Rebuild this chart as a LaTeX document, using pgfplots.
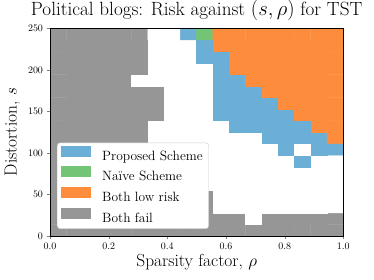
\documentclass[border=0pt]{standalone}
\usepackage{pgfplots}
\pgfplotsset{compat=1.18}
\definecolor{cblue}{RGB}{107,174,214}
\definecolor{cgreen}{RGB}{116,196,118}
\definecolor{corange}{RGB}{253,141,60}
\definecolor{cgray}{RGB}{150,150,150}
\begin{document}
\begin{tikzpicture}
\useasboundingbox (-50bp,-44bp) rectangle (324bp,236bp);
\begin{axis}[
  scale only axis,
  width=293.3bp, height=207.7bp,
  xmin=0, xmax=1, ymin=0, ymax=250,
  enlargelimits=false,
  axis on top,
  tick align=outside, tick pos=left,
  major tick length=3.5bp,
  xtick={0,0.2,0.4,0.6,0.8,1.0},
  ytick={0,50,100,150,200,250},
  xticklabel style={/pgf/number format/fixed, /pgf/number format/precision=1, /pgf/number format/fixed zerofill},
  ticklabel style={font=\fontsize{10}{12}\selectfont},
  title={Political blogs: Risk against $(s,\rho)$ for TST},
  title style={font=\fontsize{19.2}{22}\selectfont, at={(axis description cs:0.5,1)}, anchor=base, yshift=6.6bp},
  xlabel={Sparsity factor, $\rho$},
  ylabel={Distortion, $s$},
  xlabel style={font=\fontsize{17.5}{20}\selectfont, at={(axis description cs:0.5,-0.125)}, anchor=center},
  ylabel style={font=\fontsize{17.5}{20}\selectfont, at={(axis description cs:-0.128,0.5)}, anchor=center},
  colormap={cats}{rgb255=(255,255,255) rgb255=(107,174,214) rgb255=(116,196,118) rgb255=(253,141,60) rgb255=(150,150,150)},
  colormap access=direct,
  legend image code/.code={\fill[draw=none, sharp corners, #1] (0bp,-0.5bp) rectangle (30bp,10.5bp);},
  legend cell align=left,
  legend style={at={(axis description cs:0.024,0.034)}, anchor=south west, draw=black!20, rounded corners=3bp, fill=white,
    font=\fontsize{13.5}{16}\selectfont, row sep=2.7bp, column sep=9bp, inner xsep=4bp, inner ysep=3bp},
]
\addplot[matrix plot*, mesh/cols=18, point meta=explicit, forget plot,
  x filter/.expression={(x+0.5)/18}, y filter/.expression={(y+0.5)*250/18}] coordinates {
(0,0)[4] (1,0)[4] (2,0)[4] (3,0)[4] (4,0)[4] (5,0)[4] (6,0)[4] (7,0)[4] (8,0)[4] (9,0)[4] (10,0)[4] (11,0)[4] (12,0)[4] (13,0)[4] (14,0)[4] (15,0)[4] (16,0)[4] (17,0)[4]
(0,1)[4] (1,1)[4] (2,1)[4] (3,1)[4] (4,1)[4] (5,1)[4] (6,1)[4] (7,1)[4] (8,1)[4] (9,1)[4] (10,1)[4] (11,1)[4] (12,1)[0] (13,1)[4] (14,1)[4] (15,1)[4] (16,1)[4] (17,1)[4]
(0,2)[4] (1,2)[4] (2,2)[4] (3,2)[4] (4,2)[4] (5,2)[4] (6,2)[4] (7,2)[4] (8,2)[4] (9,2)[4] (10,2)[0] (11,2)[0] (12,2)[0] (13,2)[0] (14,2)[0] (15,2)[0] (16,2)[0] (17,2)[0]
(0,3)[4] (1,3)[4] (2,3)[4] (3,3)[4] (4,3)[4] (5,3)[4] (6,3)[4] (7,3)[4] (8,3)[4] (9,3)[4] (10,3)[0] (11,3)[0] (12,3)[0] (13,3)[0] (14,3)[0] (15,3)[0] (16,3)[0] (17,3)[0]
(0,4)[4] (1,4)[4] (2,4)[4] (3,4)[4] (4,4)[4] (5,4)[4] (6,4)[0] (7,4)[0] (8,4)[0] (9,4)[0] (10,4)[0] (11,4)[0] (12,4)[0] (13,4)[0] (14,4)[0] (15,4)[0] (16,4)[0] (17,4)[0]
(0,5)[4] (1,5)[4] (2,5)[4] (3,5)[4] (4,5)[4] (5,5)[4] (6,5)[0] (7,5)[0] (8,5)[0] (9,5)[0] (10,5)[0] (11,5)[0] (12,5)[0] (13,5)[0] (14,5)[0] (15,5)[0] (16,5)[0] (17,5)[0]
(0,6)[4] (1,6)[4] (2,6)[4] (3,6)[4] (4,6)[4] (5,6)[4] (6,6)[0] (7,6)[0] (8,6)[0] (9,6)[0] (10,6)[0] (11,6)[0] (12,6)[0] (13,6)[0] (14,6)[0] (15,6)[1] (16,6)[0] (17,6)[0]
(0,7)[4] (1,7)[4] (2,7)[4] (3,7)[4] (4,7)[4] (5,7)[4] (6,7)[0] (7,7)[0] (8,7)[0] (9,7)[0] (10,7)[0] (11,7)[0] (12,7)[0] (13,7)[0] (14,7)[1] (15,7)[0] (16,7)[1] (17,7)[1]
(0,8)[4] (1,8)[4] (2,8)[4] (3,8)[4] (4,8)[4] (5,8)[4] (6,8)[0] (7,8)[0] (8,8)[0] (9,8)[0] (10,8)[0] (11,8)[0] (12,8)[0] (13,8)[1] (14,8)[1] (15,8)[1] (16,8)[1] (17,8)[3]
(0,9)[4] (1,9)[4] (2,9)[4] (3,9)[4] (4,9)[4] (5,9)[4] (6,9)[0] (7,9)[0] (8,9)[0] (9,9)[0] (10,9)[0] (11,9)[1] (12,9)[1] (13,9)[1] (14,9)[1] (15,9)[1] (16,9)[3] (17,9)[3]
(0,10)[4] (1,10)[4] (2,10)[4] (3,10)[4] (4,10)[4] (5,10)[4] (6,10)[4] (7,10)[0] (8,10)[0] (9,10)[0] (10,10)[1] (11,10)[1] (12,10)[1] (13,10)[1] (14,10)[1] (15,10)[3] (16,10)[3] (17,10)[3]
(0,11)[4] (1,11)[4] (2,11)[4] (3,11)[4] (4,11)[4] (5,11)[4] (6,11)[4] (7,11)[0] (8,11)[0] (9,11)[0] (10,11)[1] (11,11)[1] (12,11)[1] (13,11)[1] (14,11)[3] (15,11)[3] (16,11)[3] (17,11)[3]
(0,12)[4] (1,12)[4] (2,12)[4] (3,12)[4] (4,12)[4] (5,12)[4] (6,12)[4] (7,12)[0] (8,12)[0] (9,12)[0] (10,12)[1] (11,12)[1] (12,12)[1] (13,12)[3] (14,12)[3] (15,12)[3] (16,12)[3] (17,12)[3]
(0,13)[4] (1,13)[4] (2,13)[4] (3,13)[4] (4,13)[4] (5,13)[0] (6,13)[0] (7,13)[0] (8,13)[0] (9,13)[0] (10,13)[1] (11,13)[1] (12,13)[3] (13,13)[3] (14,13)[3] (15,13)[3] (16,13)[3] (17,13)[3]
(0,14)[4] (1,14)[4] (2,14)[4] (3,14)[4] (4,14)[4] (5,14)[4] (6,14)[0] (7,14)[0] (8,14)[0] (9,14)[0] (10,14)[1] (11,14)[3] (12,14)[3] (13,14)[3] (14,14)[3] (15,14)[3] (16,14)[3] (17,14)[3]
(0,15)[4] (1,15)[4] (2,15)[4] (3,15)[4] (4,15)[4] (5,15)[4] (6,15)[0] (7,15)[0] (8,15)[0] (9,15)[1] (10,15)[1] (11,15)[3] (12,15)[3] (13,15)[3] (14,15)[3] (15,15)[3] (16,15)[3] (17,15)[3]
(0,16)[4] (1,16)[4] (2,16)[4] (3,16)[4] (4,16)[4] (5,16)[4] (6,16)[0] (7,16)[0] (8,16)[0] (9,16)[1] (10,16)[3] (11,16)[3] (12,16)[3] (13,16)[3] (14,16)[3] (15,16)[3] (16,16)[3] (17,16)[3]
(0,17)[4] (1,17)[4] (2,17)[4] (3,17)[4] (4,17)[4] (5,17)[4] (6,17)[0] (7,17)[0] (8,17)[1] (9,17)[2] (10,17)[3] (11,17)[3] (12,17)[3] (13,17)[3] (14,17)[3] (15,17)[3] (16,17)[3] (17,17)[3]
};
\addlegendimage{fill=cblue}
\addlegendentry{Proposed Scheme}
\addlegendimage{fill=cgreen}
\addlegendentry{Na\"{\i}ve Scheme}
\addlegendimage{fill=corange}
\addlegendentry{Both low risk}
\addlegendimage{fill=cgray}
\addlegendentry{Both fail}
\end{axis}
\end{tikzpicture}
\end{document}
